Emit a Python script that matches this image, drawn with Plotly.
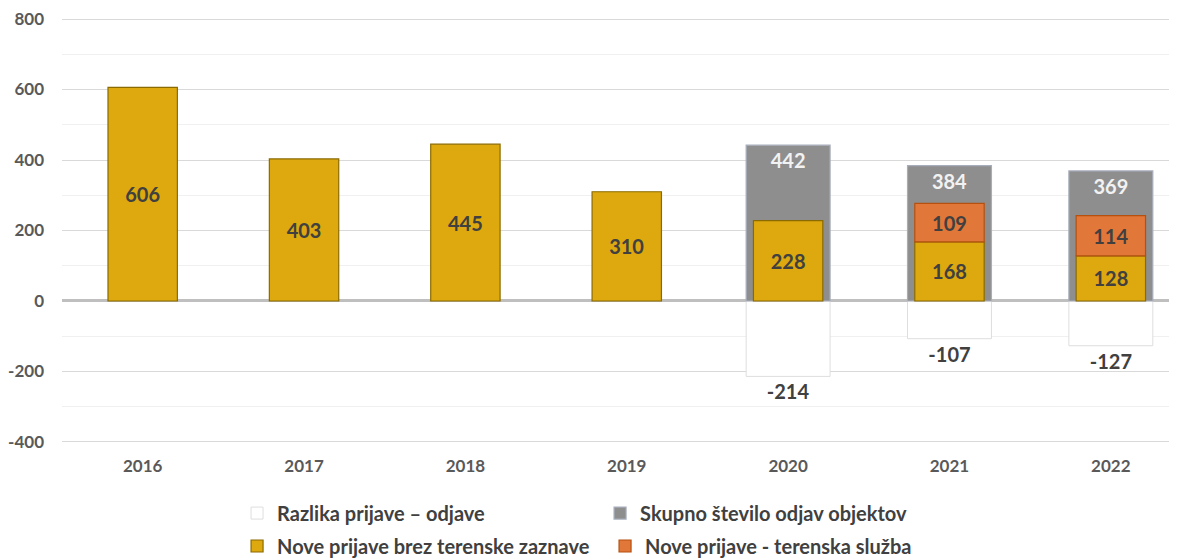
import plotly.graph_objects as go

years = ["2016", "2017", "2018", "2019", "2020", "2021", "2022"]
nove_brez = [606, 403, 445, 310, 228, 168, 128]
nove_teren = [None, None, None, None, None, 109, 114]
skupno_odjav = [None, None, None, None, 442, 384, 369]
razlika = [None, None, None, None, -214, -107, -127]

y_ticks = [-400, -200, 0, 200, 400, 600, 800]
y_tick_text = ["-400", "-200", "0", "200", "400", "600", "800"]

FONT = "Lato"
LABEL = "#404040"
TICK = "#595959"

base_teren = [b if t is not None else None for b, t in zip(nove_brez, nove_teren)]

fig = go.Figure()

fig.add_trace(go.Bar(
    x=years, y=razlika, name="Razlika prijave – odjave", legend="legend",
    width=0.52, marker=dict(color="white", line=dict(color="#DEDEDE", width=1)),
    text=razlika, textposition="outside",
    textfont=dict(size=20, color=LABEL, family=FONT, weight="bold"),
))
fig.add_trace(go.Bar(
    x=years, y=skupno_odjav, name="Skupno število odjav objektov", legend="legend",
    width=0.52, marker=dict(color="#8E8E8E", line=dict(color="#A7ADBA", width=1.2)),
    text=skupno_odjav, textposition="inside", insidetextanchor="end",
    textfont=dict(size=20, color="#F2F2F2", family=FONT, weight="bold"),
))
fig.add_trace(go.Bar(
    x=years, y=nove_brez, name="Nove prijave brez terenske zaznave", legend="legend2",
    width=0.43, marker=dict(color="#DDA90E", line=dict(color="#8B6B00", width=1.2)),
    text=nove_brez, textposition="inside", insidetextanchor="middle",
    textfont=dict(size=20, color=LABEL, family=FONT, weight="bold"),
))
fig.add_trace(go.Bar(
    x=years, y=nove_teren, base=base_teren,
    name="Nove prijave - terenska služba", legend="legend2",
    width=0.43, marker=dict(color="#E2773A", line=dict(color="#B5500F", width=1.2)),
    text=nove_teren, textposition="inside", insidetextanchor="middle",
    textfont=dict(size=20, color=LABEL, family=FONT, weight="bold"),
))

legend_common = dict(
    orientation="h", xanchor="left", yanchor="middle", yref="container",
    font=dict(size=20, color=LABEL, family=FONT, weight="bold"),
    entrywidthmode="pixels",
    itemclick=False, bgcolor="rgba(0,0,0,0)",
)

# the page has an 8px body margin, so the figure is 8px smaller than the window
fig.update_layout(
    width=1169, height=552,
    margin=dict(l=54, r=0, t=10, b=117),
    paper_bgcolor="white", plot_bgcolor="white",
    barmode="overlay",
    showlegend=True,
    legend=dict(x=0.157, y=0.085, entrywidth=318, **legend_common),
    legend2=dict(x=0.157, y=0.0254, entrywidth=323, **legend_common),
    xaxis=dict(
        type="category", range=[-0.5, 6.41], automargin=False,
        showgrid=False, showline=False, ticks="", ticklabelstandoff=11,
        tickfont=dict(size=17, color=TICK, family=FONT, weight="bold"),
    ),
    yaxis=dict(
        range=[-403, 803], tickvals=y_ticks, ticktext=y_tick_text, automargin=False,
        showgrid=True, gridcolor="#D9D9D9", gridwidth=1,
        minor=dict(dtick=100, showgrid=True, gridcolor="#F0F0F0", gridwidth=1),
        zeroline=True, zerolinecolor="#BFBFBF", zerolinewidth=3,
        showline=False, ticks="", ticklabelstandoff=17,
        tickfont=dict(size=17, color=TICK, family=FONT, weight="bold"),
    ),
    font=dict(family=FONT),
)

fig.write_html("out.html")
